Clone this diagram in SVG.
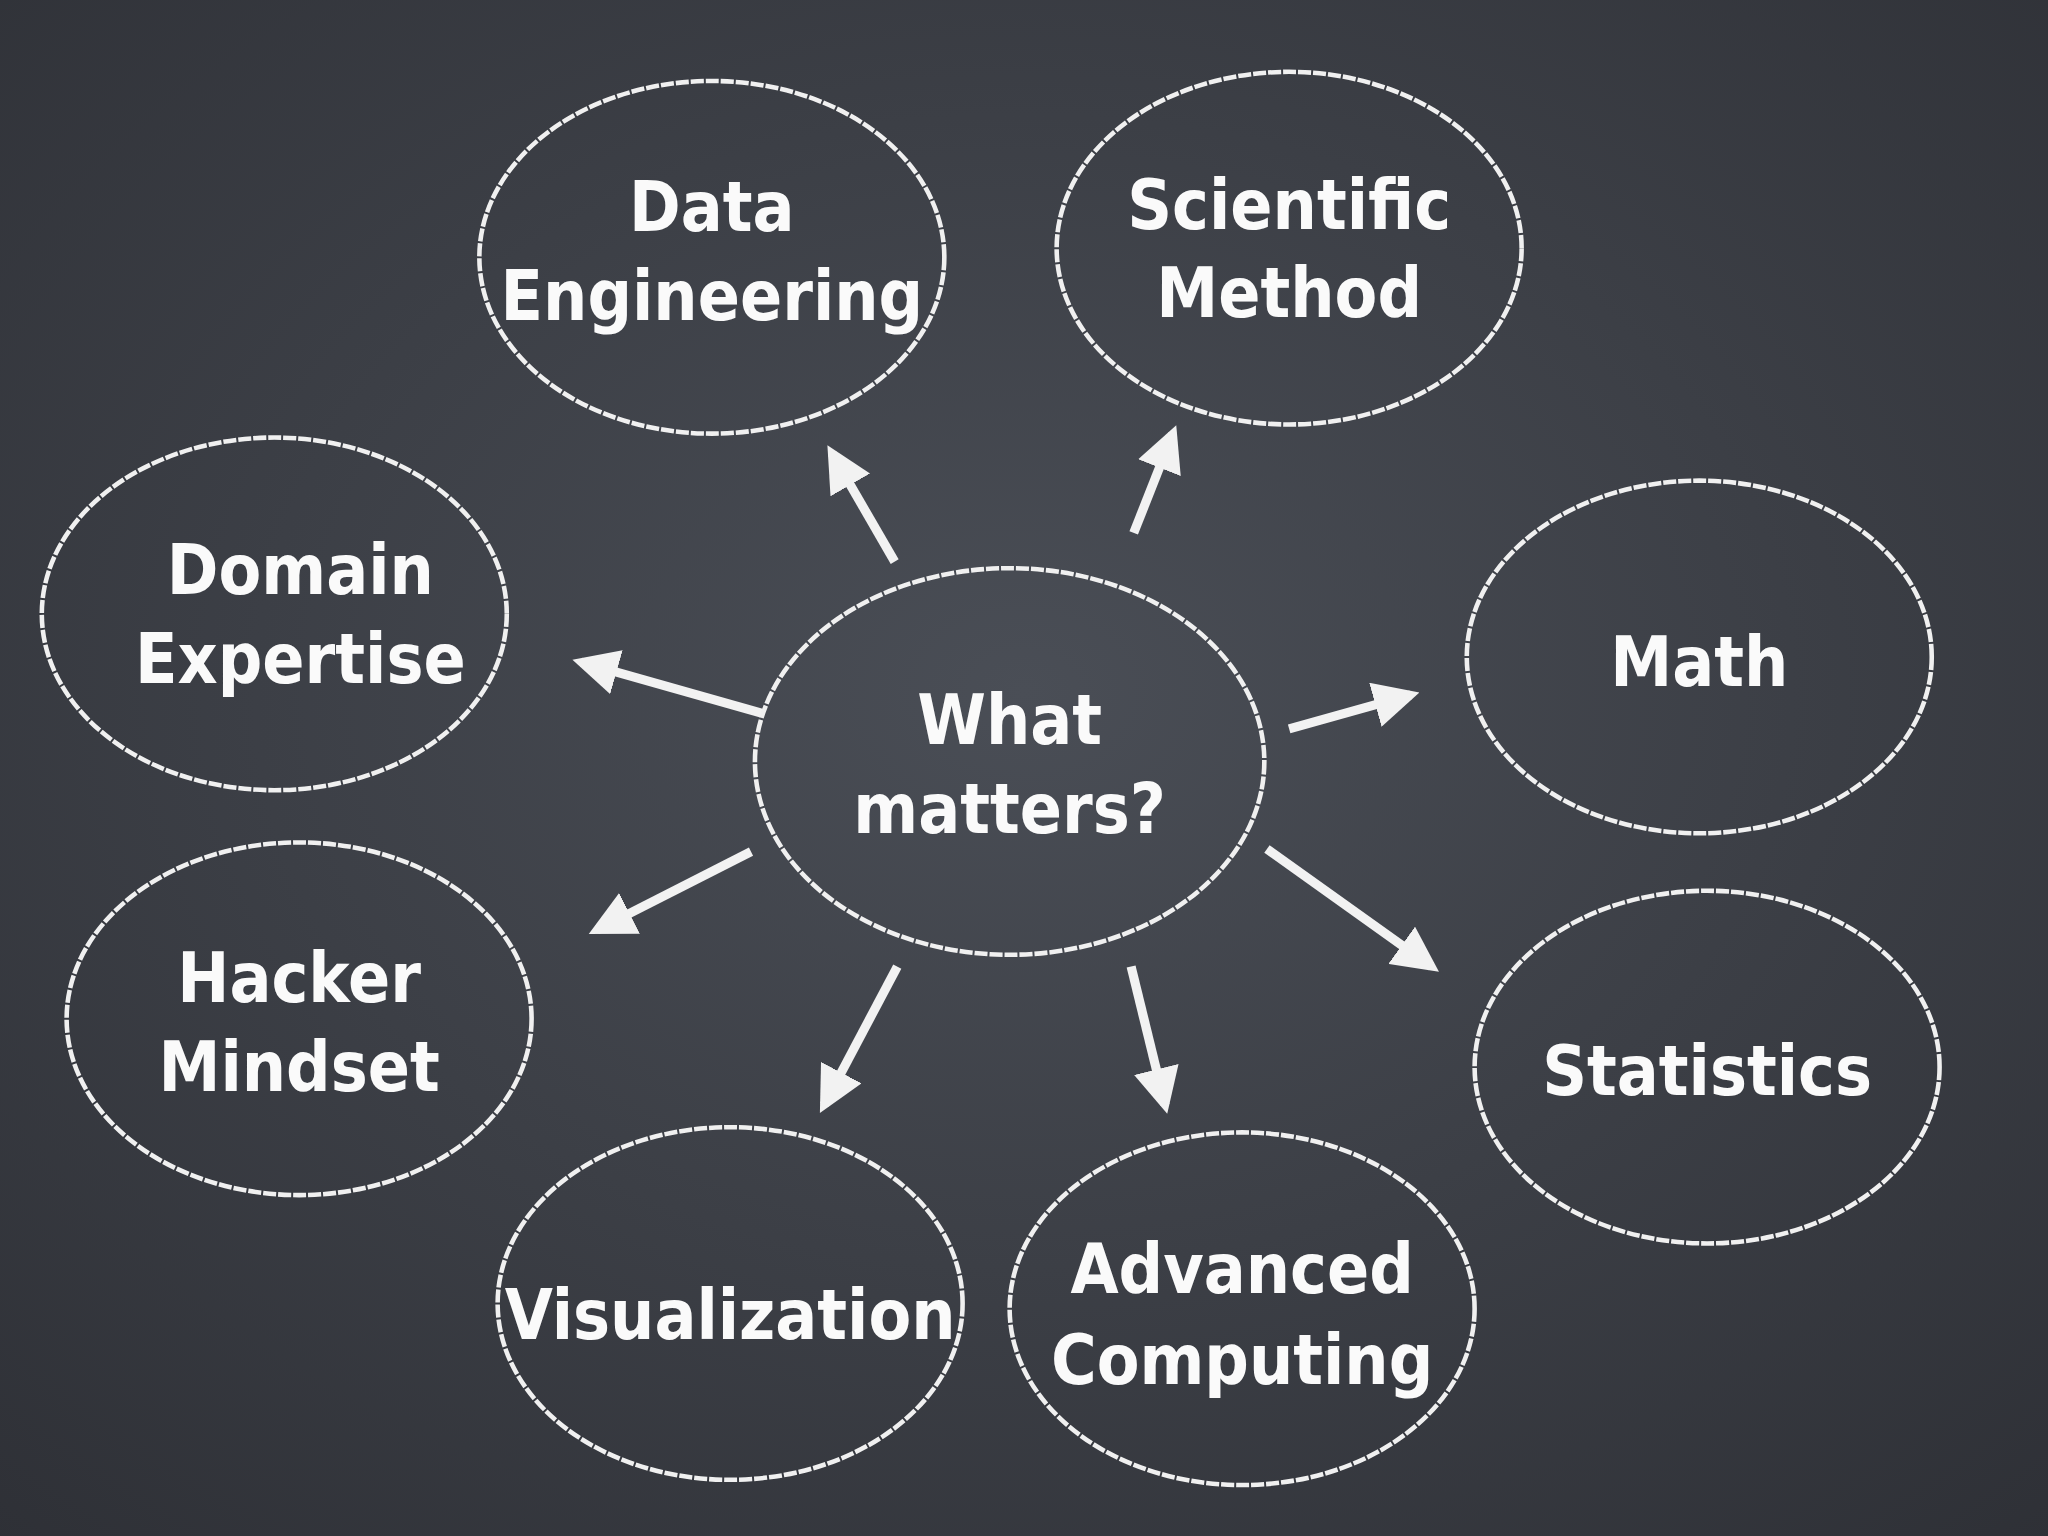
<svg xmlns="http://www.w3.org/2000/svg" width="2048" height="1536" viewBox="0 0 2048 1536">
<defs>
<radialGradient id="bg" cx="50%" cy="45%" r="75%">
<stop offset="0" stop-color="#4a4e56"/><stop offset="1" stop-color="#2e3036"/>
</radialGradient>
<marker id="ah" viewBox="0 0 10 10" refX="8" refY="5" markerWidth="5" markerHeight="5" orient="auto" markerUnits="strokeWidth">
<path d="M0,0 L10,5 L0,10 z" fill="#f2f2f2"/>
</marker>
<style>
.n ellipse{fill:none;stroke:#f0f0f0;stroke-width:3.5;stroke-dasharray:10 1.5}
.n text{fill:#fafafa;font-family:"DejaVu Sans Condensed","DejaVu Sans",sans-serif;font-stretch:condensed;font-weight:bold;font-size:53px;text-anchor:middle}
.c line{stroke:#f2f2f2;stroke-width:7;marker-end:url(#ah)}
</style>
</defs>
<rect width="2048" height="1536" fill="url(#bg)"/>
<g transform="scale(1.30612)">
<g class="c" id="connectors">
<line x1="685" y1="430" x2="637" y2="347"/>
<line x1="868" y1="408" x2="898" y2="332"/>
<line x1="583" y1="546" x2="445" y2="507"/>
<line x1="987" y1="558" x2="1080" y2="532"/>
<line x1="575" y1="652" x2="457" y2="712"/>
<line x1="970" y1="650" x2="1096" y2="740"/>
<line x1="687" y1="740" x2="631" y2="846"/>
<line x1="866" y1="740" x2="892" y2="846"/>
</g>
<g class="n" id="n-data"><ellipse cx="545" cy="197" rx="178" ry="135"/><text x="545" y="177">Data</text><text x="545" y="245">Engineering</text></g>
<g class="n" id="n-sci"><ellipse cx="987" cy="190" rx="178" ry="135"/><text x="987" y="175">Scientific</text><text x="987" y="243">Method</text></g>
<g class="n" id="n-dom"><ellipse cx="210" cy="470" rx="178" ry="135"/><text x="230" y="455">Domain</text><text x="230" y="523">Expertise</text></g>
<g class="n" id="n-math"><ellipse cx="1301" cy="503" rx="178" ry="135"/><text x="1301" y="525">Math</text></g>
<g class="n" id="n-what"><ellipse cx="773" cy="583" rx="195" ry="148"/><text x="773" y="570">What</text><text x="773" y="638">matters?</text></g>
<g class="n" id="n-hack"><ellipse cx="229" cy="780" rx="178" ry="135"/><text x="229" y="767">Hacker</text><text x="229" y="835">Mindset</text></g>
<g class="n" id="n-stat"><ellipse cx="1307" cy="817" rx="178" ry="135"/><text x="1307" y="838">Statistics</text></g>
<g class="n" id="n-vis"><ellipse cx="559" cy="998" rx="178" ry="135"/><text x="559" y="1025">Visualization</text></g>
<g class="n" id="n-adv"><ellipse cx="951" cy="1002" rx="178" ry="135"/><text x="951" y="990">Advanced</text><text x="951" y="1060">Computing</text></g>
</g>
</svg>
